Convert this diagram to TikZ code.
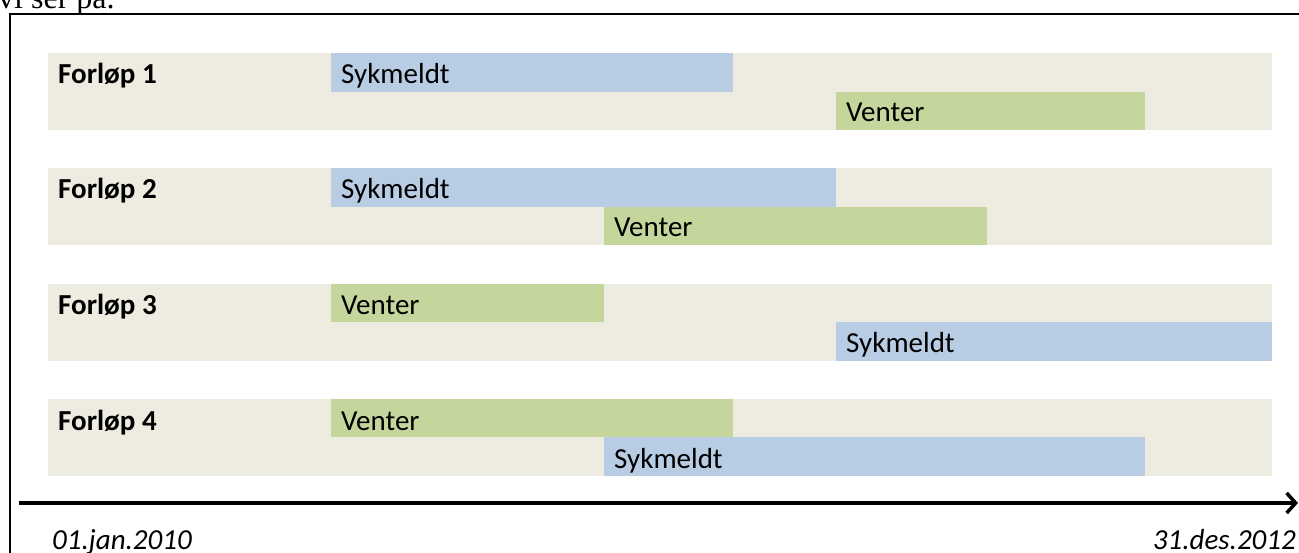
\documentclass[tikz,border=0pt]{standalone}
\usepackage{fontspec}
\setmainfont{Carlito}
\newfontfamily\serifdoc{Liberation Serif}
\usetikzlibrary{arrows.meta}
\definecolor{bandc}{HTML}{EEECE1}
\definecolor{bluec}{HTML}{B8CCE4}
\definecolor{greenc}{HTML}{C4D69B}
\tikzset{
  band/.style={fill=bandc, draw=none},
  sykbar/.style={fill=bluec, draw=none},
  venbar/.style={fill=greenc, draw=none},
  bartext/.style={anchor=base west, inner sep=0pt, font=\fontsize{29}{34}\selectfont},
  rowlabel/.style={anchor=base west, inner sep=0pt, font=\fontsize{29}{34}\selectfont\bfseries},
  datelabel/.style={inner sep=0pt, font=\fontsize{29}{34}\selectfont\itshape},
}
\begin{document}
\begin{tikzpicture}[x=1pt,y=-1pt]
\useasboundingbox (0,0) rectangle (1299,553);
\clip (0,0) rectangle (1299,553);
% caption text cut at the top
\node[anchor=base west, inner sep=0pt, font=\serifdoc\fontsize{32}{36}\selectfont] (cap) at (-2,9) {vi ser på.};
% frame
\draw[line width=2.5pt] (10,14) rectangle (1320,600);
% bands
\foreach \i/\t in {1/53,2/168,3/284,4/399}{
  \fill[band] (48,\t) rectangle (1272,\t+77);
}
% Forløp 1
\fill[sykbar] (331,53) rectangle (733,92);
\fill[venbar] (836,92) rectangle (1145,130);
% Forløp 2
\fill[sykbar] (331,168) rectangle (836,207);
\fill[venbar] (604,207) rectangle (987,245);
% Forløp 3
\fill[venbar] (331,284) rectangle (604,322);
\fill[sykbar] (836,322) rectangle (1272,361);
% Forløp 4
\fill[venbar] (331,399) rectangle (733,437);
\fill[sykbar] (604,437) rectangle (1145,476);
% labels
\node[rowlabel] (l1) at (58,84) {Forløp 1};
\node[rowlabel] (l2) at (58,199) {Forløp 2};
\node[rowlabel] (l3) at (58,315) {Forløp 3};
\node[rowlabel] (l4) at (58,430) {Forløp 4};
\node[bartext] (s1) at (341,84) {Sykmeldt};
\node[bartext] (v1) at (846,122) {Venter};
\node[bartext] (s2) at (341,199) {Sykmeldt};
\node[bartext] (v2) at (614,237) {Venter};
\node[bartext] (v3) at (341,315) {Venter};
\node[bartext] (s3) at (846,353) {Sykmeldt};
\node[bartext] (v4) at (341,430) {Venter};
\node[bartext] (s4) at (614,468) {Sykmeldt};
% axis
\coordinate (axs) at (19,503);
\coordinate (axe) at (1298,503);
\draw[line width=3.5pt, -{Straight Barb[length=9pt,width=20pt]}] (axs) -- (axe);
\node[datelabel, anchor=base west] (d1) at (52,549) {01.jan.2010};
\node[datelabel, anchor=base east] (d2) at (1296,549) {31.des.2012};
\end{tikzpicture}
\end{document}
